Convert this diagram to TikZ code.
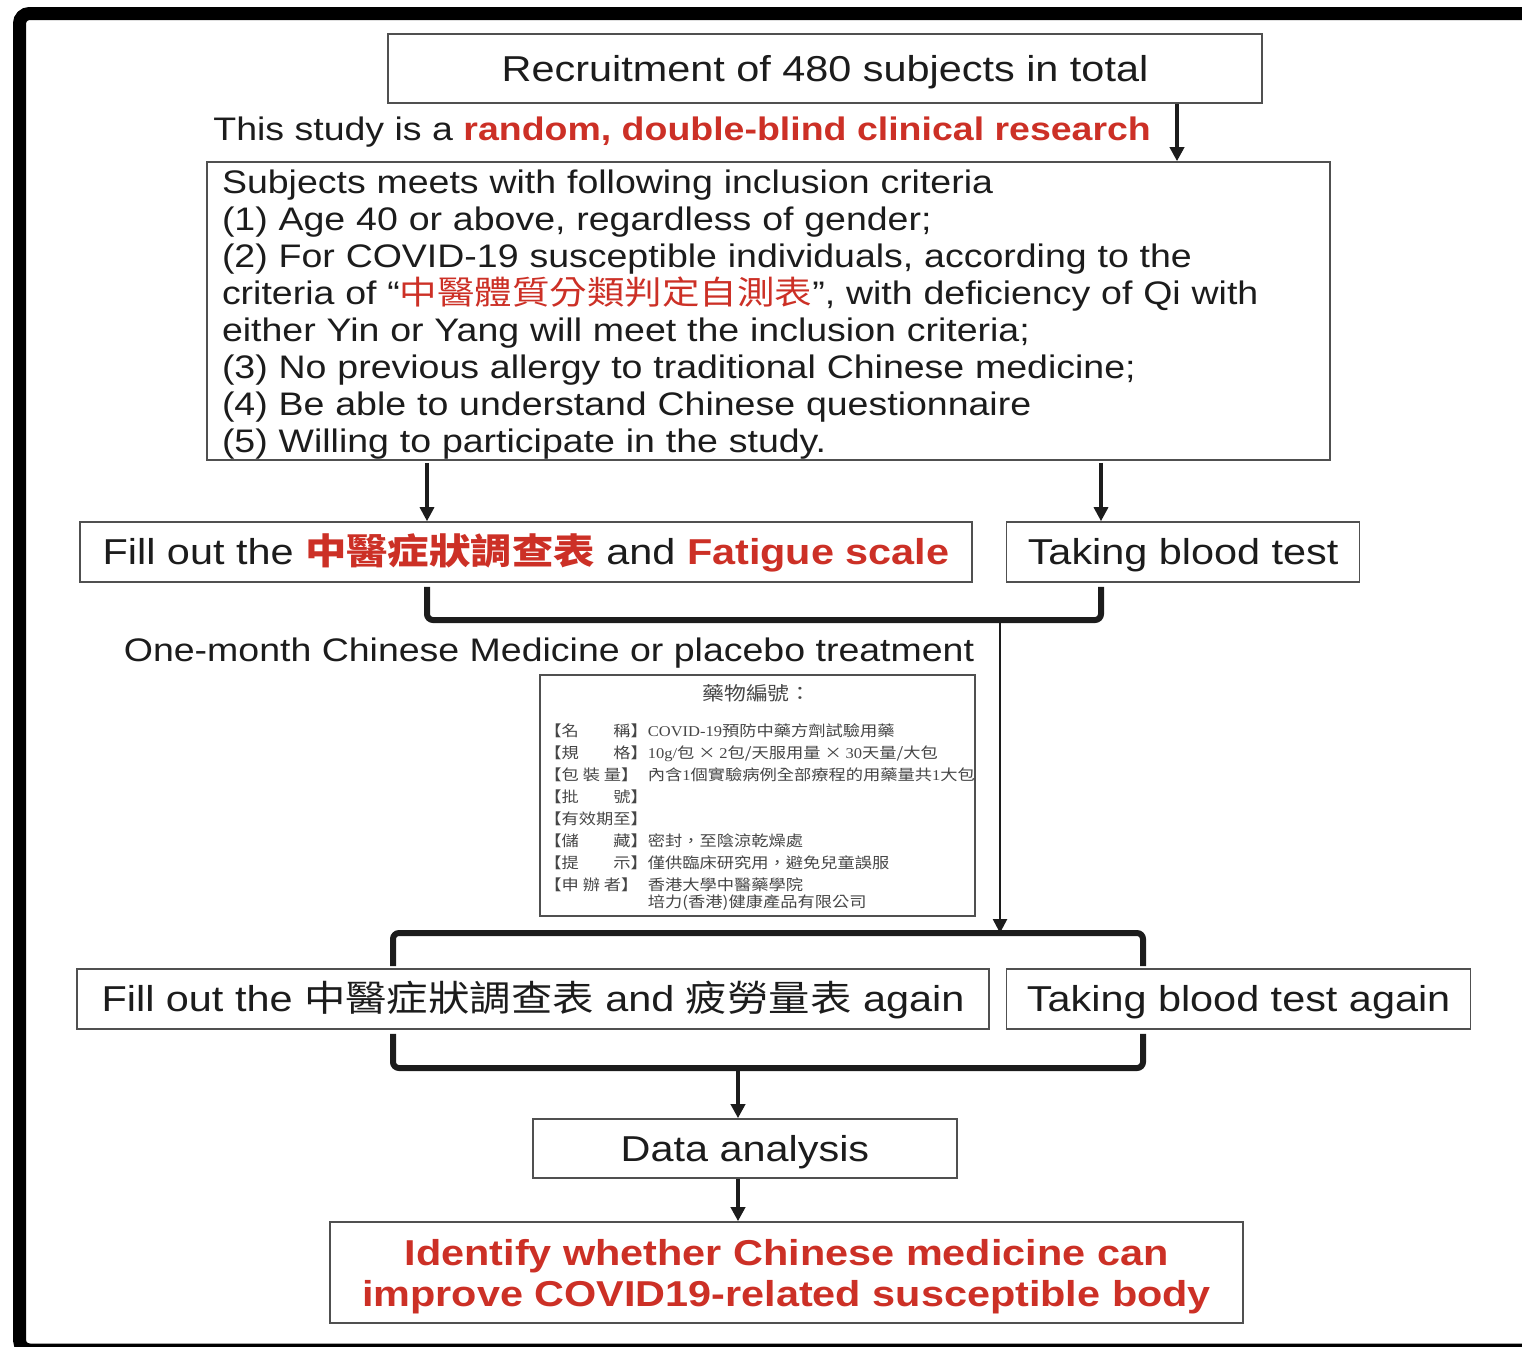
\documentclass[tikz,border=0pt]{standalone}
\usepackage{fontspec}
\setmainfont{Liberation Sans}[FakeStretch=1.15]
\newfontfamily\cjk{Noto Sans CJK TC}[FakeStretch=1.15]
\newfontfamily\lbserif{Liberation Serif}[FakeStretch=1.1]
\newcommand{\lbs}[1]{{\lbserif #1}}
\usetikzlibrary{arrows.meta,positioning}
\definecolor{ink}{RGB}{28,28,28}
\definecolor{boxgray}{RGB}{80,80,80}
\definecolor{labgray}{RGB}{70,70,70}
\definecolor{hkred}{RGB}{204,48,38}

\begin{document}
\begin{tikzpicture}[x=0.5pt, y=-0.5pt, font=\fontsize{18}{21}\selectfont, text=ink]
\tikzstyle{box}=[draw=boxgray, line width=0.8pt, inner sep=0pt, align=center]
\tikzstyle{onebox}=[box, text height=13.5pt, text depth=0.6pt]
\tikzstyle{caption}=[inner sep=0pt, font=\fontsize{16.3}{18}\selectfont, text height=12.2pt, text depth=0.5pt]
\tikzstyle{arr}=[draw=ink, line width=1.8pt, -{Triangle[width=7pt,length=7pt]}]
\tikzstyle{bracket}=[draw=ink, line width=3pt, rounded corners=3pt]
\useasboundingbox (0,0) rectangle (1522,1346);
\clip (0,0) rectangle (1522,1346);
% outer frame
\draw[line width=6.5pt, rounded corners=5pt] (19.5,13.5) rectangle (1545,1350);
% bends of the connectors
\coordinate (xa) at (427,0);
\coordinate (xb) at (1101,0);
\coordinate (xc) at (1177,0);
\coordinate (xd) at (393,0);
\coordinate (xe) at (1143,0);
\coordinate (j1) at (1000,620);
\coordinate (j2) at (1000,933);
\coordinate (j3) at (738,1068);
% boxes
\node[onebox, minimum width=437pt, minimum height=34.5pt] (rec) at (825,68.5) {Recruitment of 480 subjects in total};
\node[caption, anchor=west] (study) at (213,129) {This study is a {\bfseries\color{hkred}random, double-blind clinical research}};
\node[box, minimum width=561.5pt, minimum height=149pt, text width=546.5pt, align=left, font=\fontsize{16.3}{18.5}\selectfont] (incl) at (768.5,311) {\rule{0pt}{15pt}Subjects meets with following inclusion criteria\\
(1) Age 40 or above, regardless of gender;\\
(2) For COVID-19 susceptible individuals, according to the\\
criteria of ``{\cjk\color{hkred}中醫體質分類判定自測表}'', with deficiency of Qi with\\
either Yin or Yang will meet the inclusion criteria;\\
(3) No previous allergy to traditional Chinese medicine;\\
(4) Be able to understand Chinese questionnaire\\
(5) Willing to participate in the study.};
\node[onebox, minimum width=446pt, minimum height=30pt] (fill1) at (526,552) {Fill out the {\cjk\bfseries\color{hkred}中醫症狀調查表} and {\bfseries\color{hkred}Fatigue scale}};
\node[onebox, minimum width=176.5pt, minimum height=30pt, right=16.5pt of fill1] (blood) {Taking blood test};
\node[caption] (treat) at (549,650) {One-month Chinese Medicine or placebo treatment};
% drug label
\node[box, minimum width=217.5pt, minimum height=120.5pt] (label) at (757.5,795.5) {};
\node[inner sep=0pt, text=labgray, font=\cjk\fontsize{9.5}{11}\selectfont] (labtitle) at (757,693) {藥物編號：};
\node[anchor=north west, inner sep=0pt, text=labgray, font=\cjk\fontsize{7.5}{11}\selectfont] (labrows) at (544,721) {\begin{tabular}{@{}l@{}l@{}}
【名　　稱】 & \lbs{COVID-19}預防中藥方劑試驗用藥\\
【規　　格】 & \lbs{10g/}包 × \lbs{2}包/天服用量 × \lbs{30}天量/大包\\
【包 裝 量】 & 內含\lbs{1}個實驗病例全部療程的用藥量共\lbs{1}大包\\
【批　　號】 & \\
【有效期至】 & \\
【儲　　藏】 & 密封，至陰涼乾燥處\\
【提　　示】 & 僅供臨床研究用，避免兒童誤服\\
【申 辦 者】 & 香港大學中醫藥學院\\[-2.5pt]
 & 培力(香港)健康產品有限公司
\end{tabular}};
\node[onebox, minimum width=456pt, minimum height=30pt] (fill2) at (533,999) {Fill out the {\cjk 中醫症狀調查表} and {\cjk 疲勞量表} again};
\node[onebox, minimum width=232pt, minimum height=30pt, right=8pt of fill2] (blood2) {Taking blood test again};
\node[onebox, minimum width=212pt, minimum height=29.5pt] (data) at (745,1148.5) {Data analysis};
\node[box, minimum width=456.5pt, minimum height=50.5pt, font=\fontsize{18}{20.5}\selectfont\bfseries, text=hkred] (goal) at (786.5,1272.5) {\rule{0pt}{17.5pt}Identify whether Chinese medicine can\\improve COVID19-related susceptible body};
% connectors
\draw[arr] (rec.south -| xc) -- (incl.north -| xc);
\draw[arr, line width=1.6pt] ([yshift=-1pt]incl.south -| xa) -- (fill1.north -| xa);
\draw[arr, line width=1.6pt] ([yshift=-1pt]incl.south -| xb) -- (blood.north -| xb);
\draw[bracket] ([yshift=-2pt]fill1.south -| xa) -- (j1 -| xa) -- (j1 -| xb) -- ([yshift=-2pt]blood.south -| xb);
\draw[arr, line width=1.3pt] (j1) -- (j2);
\draw[bracket] ([yshift=1pt]fill2.north -| xd) -- (j2 -| xd) -- (j2 -| xe) -- ([yshift=1pt]blood2.north -| xe);
\draw[bracket] ([yshift=-2pt]fill2.south -| xd) -- (j3 -| xd) -- (j3 -| xe) -- ([yshift=-2pt]blood2.south -| xe);
\draw[arr] (j3) -- (data.north -| j3);
\draw[arr] (data.south -| j3) -- (goal.north -| j3);
\end{tikzpicture}
\end{document}
